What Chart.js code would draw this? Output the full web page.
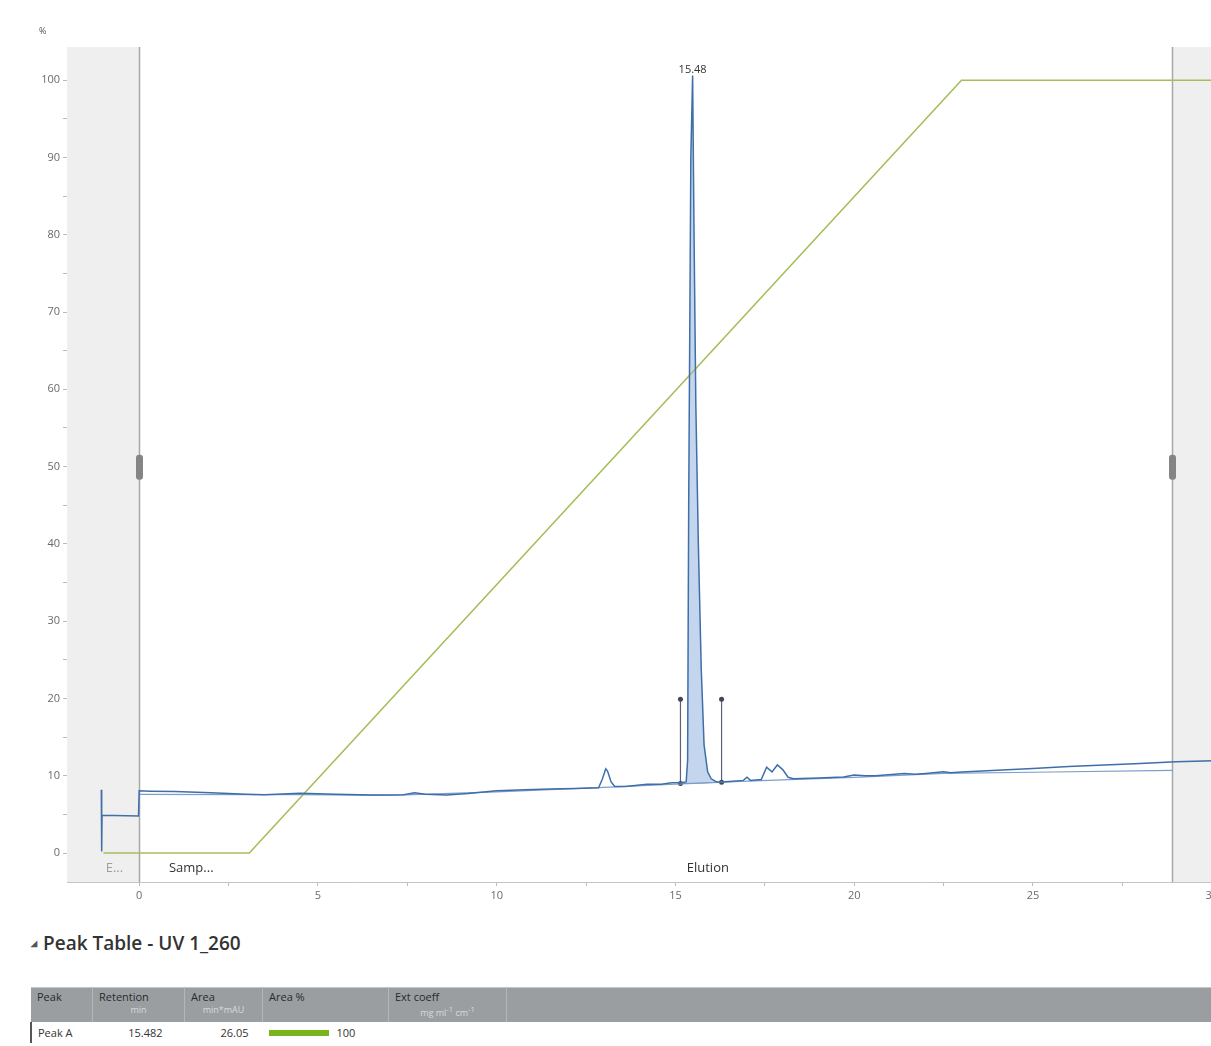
<html>
<head>
<script src="https://cdn.jsdelivr.net/npm/chart.js@4.4.3/dist/chart.umd.min.js"></script>
<style>
  body { margin: 0; background: #fff; font-family: "Open Sans", sans-serif; }
  #wrap { position: absolute; left: 0; top: 0; width: 1211px; height: 1046px; overflow: hidden; }
  #mychart { position: absolute; left: 0; top: 0; }
  #title { position: absolute; left: 31px; top: 930px; font-size: 19px; color: #333; font-weight: 600; }
  #title .arr { font-size: 8px; color: #555; margin-right: 6px; vertical-align: 4px; }
  table { position: absolute; left: 30px; top: 987px; border-collapse: collapse; font-size: 11px; width: 1190px; }
  th { background: #9b9ea1; color: #2a2a2a; font-weight: normal; text-align: left; vertical-align: top;
       height: 34px; padding: 2px 6px; border-right: 1px solid #b4b7b9; border-top: 1px solid #c4c6c8; line-height: 13px; }
  th .sub { display: block; color: #d9dadb; font-size: 9px; text-align: center; }
  td { padding: 3px 6px; color: #333; height: 16px; }
  td.num { text-align: right; }
  .bar { display: inline-block; width: 60px; height: 6px; background: #78b51c; vertical-align: 1px; margin-right: 8px; }
</style>
</head>
<body>
<div id="wrap">
<canvas id="mychart" width="1221" height="905"></canvas>
<div id="title"><span class="arr">&#9698;</span>Peak Table - UV 1_260</div>
<table>
  <tr>
    <th style="width:49px">Peak</th>
    <th style="width:79px">Retention<span class="sub">min</span></th>
    <th style="width:65px">Area<span class="sub">min*mAU</span></th>
    <th style="width:113px">Area %</th>
    <th style="width:105px">Ext coeff<span class="sub">mg ml<sup>-1</sup> cm<sup>-1</sup></span></th>
    <th></th>
  </tr>
  <tr>
    <td style="border-left:2px solid #555">Peak A</td>
    <td class="num" style="padding-right:22px">15.482</td>
    <td class="num" style="padding-right:14px">26.05</td>
    <td style="color:#333"><span class="bar"></span>100</td>
    <td></td><td></td>
  </tr>
</table>
</div>
<script>
    // UV 1_260 trace (min, %)
    let uvTime = [-1.06, -1.05, -1.04, -0.02, 0.0, 0.3, 1.0, 2.0, 3.0, 3.5, 4.5, 5.5, 6.5, 7.4, 7.7, 8.0, 8.6, 9.2, 10.0, 10.8,
        11.5, 12.2, 12.85, 12.95, 13.05, 13.1, 13.2, 13.3, 13.6, 14.2, 14.6, 14.9, 15.14, 15.3, 15.34, 15.37, 15.43, 15.48,
        15.52, 15.57, 15.64, 15.72, 15.8, 15.9, 16.0, 16.15, 16.29, 16.6, 16.9, 17.0, 17.1, 17.4, 17.55, 17.7, 17.85, 18.0,
        18.15, 18.3, 19.0, 19.7, 20.0, 20.3, 20.6, 21.4, 21.7, 22.0, 22.5, 22.7, 23.0, 24.0, 25.0, 26.0, 27.0, 28.0, 29.0, 30.1];
    let uvValue = [8.2, 0.2, 4.9, 4.8, 8.05, 8.0, 7.95, 7.8, 7.6, 7.55, 7.75, 7.6, 7.5, 7.55, 7.8, 7.6, 7.5, 7.7, 8.05, 8.2,
        8.3, 8.35, 8.45, 9.5, 10.9, 10.6, 9.2, 8.6, 8.6, 8.9, 8.9, 9.1, 9.1, 9.2, 12, 45, 90, 100.6,
        80, 58, 40, 24, 14, 10.5, 9.6, 9.2, 9.2, 9.3, 9.4, 9.8, 9.4, 9.5, 11.1, 10.5, 11.4, 10.8,
        9.8, 9.6, 9.7, 9.85, 10.1, 10.0, 10.0, 10.3, 10.2, 10.3, 10.5, 10.4, 10.5, 10.7, 10.95, 11.2, 11.4, 11.6, 11.8, 11.95];

    // second (lighter) curve
    let refTime = [0, 3.0, 4.5, 7.0, 10.0, 13.0, 15.0, 17.0, 20.0, 22.5, 25.0, 28.9];
    let refValue = [7.6, 7.55, 7.55, 7.45, 7.9, 8.5, 8.9, 9.3, 9.8, 10.3, 10.45, 10.7];

    // gradient %B
    let gradTime = [-1.0, 3.08, 23.0, 30.1];
    let gradValue = [0, 0, 100, 100];

    // integrated peak
    let peakName = "15.48";
    let peakStart = 15.14, peakEnd = 16.29;
    let peakBaseY = [9.0, 9.15];
    let markerTop = 19.9;

    // phases
    let phaseNames = ["E...", "Samp...", "Elution"];
    let phaseStart = [-1.05, 0, 3.08];
    let phaseEnd = [0, 3.08, 28.9];

    let shadeRanges = [[-2.02, 0], [28.9, 30.2]];
    let xTickValues = [0, 2.5, 5, 7.5, 10, 12.5, 15, 17.5, 20, 22.5, 25, 27.5, 30];
    let yTickValues = [0, 5, 10, 15, 20, 25, 30, 35, 40, 45, 50, 55, 60, 65, 70, 75, 80, 85, 90, 95, 100];

    function pts(xs, ys) {
        return xs.map((x, i) => ({ x: x, y: ys[i] }));
    }

    let uvPts = pts(uvTime, uvValue);
    let peakPts = uvPts.filter(p => p.x >= 15.3 && p.x <= peakEnd);

    let bgPlugin = {
        id: 'bg',
        beforeDatasetsDraw(chart) {
            let ctx = chart.ctx, a = chart.chartArea, xs = chart.scales.x, ys = chart.scales.y;
            ctx.save();
            ctx.fillStyle = '#efefef';
            shadeRanges.forEach(r => {
                let x1 = Math.max(xs.getPixelForValue(r[0]), a.left);
                let x2 = Math.min(xs.getPixelForValue(r[1]), chart.width);
                ctx.fillRect(x1, a.top, x2 - x1, a.bottom - a.top);
            });
            // region borders with grips
            [0, 28.9].forEach(v => {
                let px = Math.round(xs.getPixelForValue(v)) + 0.5;
                ctx.strokeStyle = '#a8a8a8';
                ctx.lineWidth = 1.5;
                ctx.beginPath();
                ctx.moveTo(px, a.top);
                ctx.lineTo(px, a.bottom);
                ctx.stroke();
                let gy = ys.getPixelForValue(50);
                ctx.fillStyle = '#858585';
                ctx.beginPath();
                ctx.roundRect(px - 3.5, gy - 12, 7, 25, 3);
                ctx.fill();
            });
            ctx.restore();
        },
        afterDatasetsDraw(chart) {
            let ctx = chart.ctx, a = chart.chartArea, xs = chart.scales.x, ys = chart.scales.y;
            ctx.save();
            ctx.font = '13px "Open Sans"';
            ctx.textAlign = 'center';
            ctx.textBaseline = 'middle';
            phaseNames.forEach((n, i) => {
                let cx = (xs.getPixelForValue(phaseStart[i]) + xs.getPixelForValue(phaseEnd[i])) / 2;
                ctx.fillStyle = i === 0 ? '#a0a0a0' : '#333';
                ctx.fillText(n, cx - (i === 0 ? 6 : 3), a.bottom - 14);
            });
            // peak label
            ctx.font = '11px "Open Sans"';
            ctx.fillStyle = '#333';
            ctx.textBaseline = 'bottom';
            let top = Math.max(...uvValue);
            ctx.fillText(peakName, xs.getPixelForValue(15.48), ys.getPixelForValue(top));
            // unit
            ctx.font = '9px "Open Sans"';
            ctx.fillStyle = '#555';
            ctx.textAlign = 'left';
            ctx.fillText('%', 39, 36);
            ctx.restore();
        }
    };

    let datainfo = {
        datasets: [
            { label: 'UV 1_260', data: uvPts, borderColor: '#3f6ea9', borderWidth: 1.5, pointRadius: 0, showLine: true, fill: false },
            { label: 'ref', data: pts(refTime, refValue), borderColor: '#7c9ecb', borderWidth: 1.2, pointRadius: 0, showLine: true, fill: false },
            { label: 'Conc B', data: pts(gradTime, gradValue), borderColor: '#a6be5a', borderWidth: 1.6, pointRadius: 0, showLine: true, fill: false },
            { label: 'peak', data: peakPts, borderWidth: 0, borderColor: 'rgba(0,0,0,0)', backgroundColor: 'rgba(176,200,232,0.75)', pointRadius: 0, showLine: true, fill: 4 },
            { label: 'base', data: pts([peakStart, peakEnd], peakBaseY), borderColor: '#5b6270', borderWidth: 1, pointRadius: 0, showLine: true, fill: false },
            { label: 'm1', data: pts([peakStart, peakStart], [peakBaseY[0], markerTop]), borderColor: '#5b6270', borderWidth: 1.2,
              pointRadius: 2.5, pointBackgroundColor: '#404755', pointBorderWidth: 0, showLine: true, fill: false },
            { label: 'm2', data: pts([peakEnd, peakEnd], [peakBaseY[1], markerTop]), borderColor: '#5b6270', borderWidth: 1.2,
              pointRadius: 2.5, pointBackgroundColor: '#404755', pointBorderWidth: 0, showLine: true, fill: false }
        ]
    };

    let tickFont = { family: 'Open Sans', size: 11 };

    let config = {
        type: 'scatter',
        data: datainfo,
        options: {
            responsive: false,
            animation: false,
            layout: { padding: { left: 0, top: 47, right: 0, bottom: 0 } },
            plugins: { legend: { display: false }, tooltip: { enabled: false } },
            scales: {
                x: {
                    type: 'linear', min: -2.02, max: 30.03,
                    afterBuildTicks: s => { s.ticks = xTickValues.map(v => ({ value: v })); },
                    afterFit: s => { s.height = 23; },
                    ticks: { color: '#6a6a6a', font: tickFont, padding: 3, maxRotation: 0,
                             callback: v => (v % 5 === 0 ? String(v) : '') },
                    grid: { drawOnChartArea: false, tickLength: 4, color: '#bbb' },
                    border: { color: '#c4c4c4' }
                },
                y: {
                    type: 'linear', min: -3.75, max: 104.3,
                    afterBuildTicks: s => { s.ticks = yTickValues.map(v => ({ value: v })); },
                    afterFit: s => { s.width = 67; },
                    ticks: { color: '#6a6a6a', font: tickFont, padding: 3,
                             callback: v => (v % 10 === 0 ? String(v) : '') },
                    grid: { drawOnChartArea: false, tickLength: 4, color: '#bbb' },
                    border: { color: '#c4c4c4' }
                }
            }
        },
        plugins: [bgPlugin]
    };

    new Chart(document.getElementById('mychart'), config);
</script>
</body>
</html>
